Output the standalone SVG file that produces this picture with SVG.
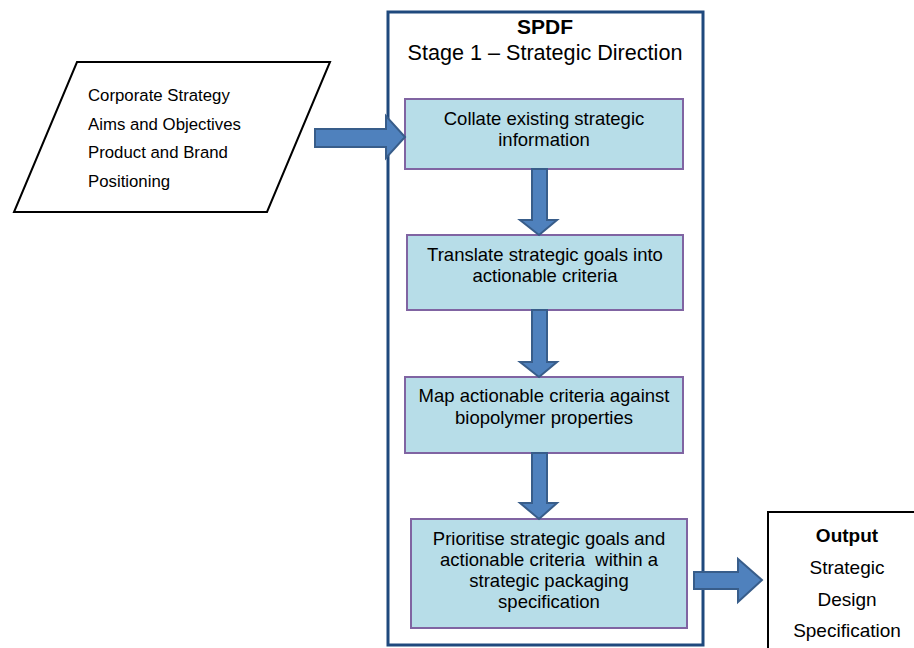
<svg xmlns="http://www.w3.org/2000/svg" width="914" height="648" viewBox="0 0 914 648">
  <style>
    text { font-family: "Liberation Sans", Arial, sans-serif; fill: #000; }
    .step { fill: #B7DDE8; stroke: #8064A2; stroke-width: 2; }
    .stepText { font-size: 18.5px; text-anchor: middle; }
    .arrow { fill: #4F81BD; stroke: #385D8A; stroke-width: 2; stroke-linejoin: miter; }
    .inText { font-size: 16.8px; }
    .outText { font-size: 19px; text-anchor: middle; }
  </style>

  <!-- Stage container -->
  <g id="stage">
    <rect x="388" y="12" width="315" height="633" fill="#fff" stroke="#1F497D" stroke-width="3"/>
    <text x="545" y="34" font-size="21" font-weight="bold" text-anchor="middle">SPDF</text>
    <text x="545" y="60" font-size="21.6" text-anchor="middle">Stage 1 – Strategic Direction</text>
  </g>

  <!-- Input parallelogram -->
  <g id="input">
    <polygon points="77,62 330,62 267,212 14,212" fill="#fff" stroke="#000" stroke-width="2"/>
    <text class="inText" x="88" y="101">Corporate Strategy</text>
    <text class="inText" x="88" y="130">Aims and Objectives</text>
    <text class="inText" x="88" y="158">Product and Brand</text>
    <text class="inText" x="88" y="187">Positioning</text>
  </g>

  <!-- Process steps -->
  <g id="step1">
    <rect class="step" x="405" y="99" width="278" height="70"/>
    <text class="stepText" x="544" y="125">Collate existing strategic</text>
    <text class="stepText" x="544" y="146">information</text>
  </g>
  <g id="step2">
    <rect class="step" x="407" y="235" width="276" height="75"/>
    <text class="stepText" x="545" y="261">Translate strategic goals into</text>
    <text class="stepText" x="545" y="282">actionable criteria</text>
  </g>
  <g id="step3">
    <rect class="step" x="405" y="377" width="278" height="76"/>
    <text class="stepText" x="544" y="402">Map actionable criteria against</text>
    <text class="stepText" x="544" y="424">biopolymer properties</text>
  </g>
  <g id="step4">
    <rect class="step" x="411" y="519" width="276" height="109"/>
    <text class="stepText" x="549" y="545">Prioritise strategic goals and</text>
    <text class="stepText" x="549" y="566" xml:space="preserve">actionable criteria  within a</text>
    <text class="stepText" x="549" y="587">strategic packaging</text>
    <text class="stepText" x="549" y="608">specification</text>
  </g>

  <!-- Output box -->
  <g id="output">
    <rect x="768" y="512" width="160" height="150" fill="#fff" stroke="#000" stroke-width="2"/>
    <text class="outText" x="847" y="542" font-weight="bold">Output</text>
    <text class="outText" x="847" y="574">Strategic</text>
    <text class="outText" x="847" y="606">Design</text>
    <text class="outText" x="847" y="637">Specification</text>
  </g>

  <!-- Block arrows -->
  <g id="connectors">
    <polygon class="arrow" points="315,129 386,129 386,116 405,137 386,158 386,147 315,147"/>
    <polygon class="arrow" points="532,169 547,169 547,220 557,220 539,235 520,220 532,220"/>
    <polygon class="arrow" points="532,310 547,310 547,362 557,362 539,377 520,362 532,362"/>
    <polygon class="arrow" points="532,453 547,453 547,503 557,503 539,519 520,503 532,503"/>
    <polygon class="arrow" points="694,572 738,572 738,559 762,580 738,602 738,589 694,589"/>
  </g>
</svg>
